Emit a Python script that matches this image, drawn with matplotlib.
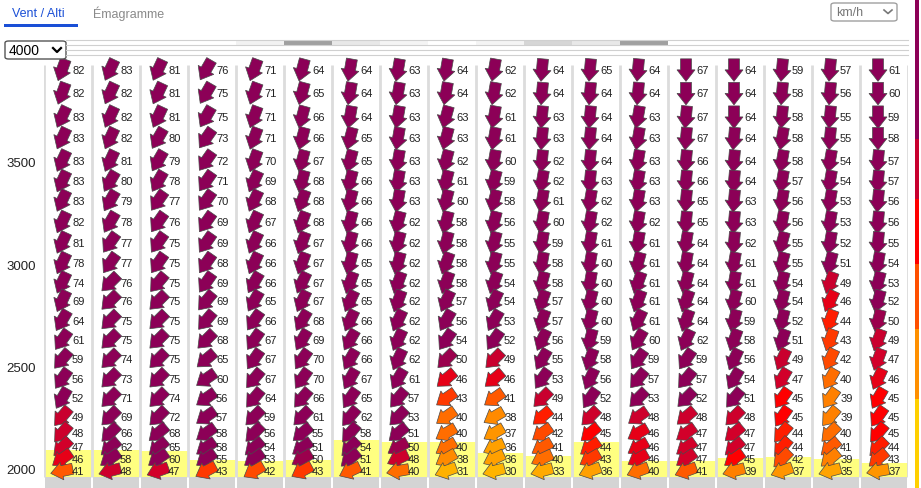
import numpy as np
import matplotlib
matplotlib.use('Agg')
import matplotlib.pyplot as plt
from matplotlib.patches import Polygon, Rectangle, FancyBboxPatch
from matplotlib.lines import Line2D
from matplotlib.transforms import Affine2D, ScaledTranslation
from matplotlib.colors import LinearSegmentedColormap

plt.rcParams['font.family'] = ['Liberation Sans', 'DejaVu Sans']

W, H = 921, 489

# altitude of each level (m), top to bottom
altitudes = [3950, 3835, 3720, 3615, 3505, 3405, 3310, 3205, 3105, 3005, 2910,
             2820, 2725, 2630, 2535, 2440, 2345, 2255, 2175, 2105, 2050, 1990]

# wind speed (km/h), one list per column (time step), top to bottom
speed = [
    [82, 82, 83, 83, 83, 83, 83, 82, 81, 78, 74, 69, 64, 61, 59, 56, 52, 49, 48, 47, 46, 41],
    [83, 82, 82, 82, 81, 80, 79, 78, 77, 77, 76, 76, 75, 75, 74, 73, 71, 69, 66, 62, 58, 48],
    [81, 81, 81, 80, 79, 78, 77, 76, 75, 75, 75, 75, 75, 75, 75, 75, 74, 72, 68, 65, 60, 47],
    [76, 75, 75, 73, 72, 71, 70, 69, 69, 68, 69, 69, 69, 68, 65, 60, 56, 57, 58, 58, 55, 43],
    [71, 71, 71, 71, 70, 69, 68, 67, 66, 66, 66, 65, 66, 67, 67, 67, 64, 59, 56, 54, 53, 42],
    [64, 65, 66, 66, 67, 68, 68, 68, 67, 67, 67, 67, 68, 69, 70, 70, 66, 61, 55, 51, 50, 43],
    [64, 64, 64, 65, 65, 66, 66, 66, 66, 65, 65, 65, 66, 66, 66, 67, 65, 62, 58, 54, 51, 41],
    [63, 63, 63, 63, 63, 63, 63, 62, 62, 62, 62, 62, 62, 62, 62, 61, 57, 53, 51, 50, 48, 40],
    [64, 64, 63, 63, 62, 61, 60, 58, 58, 58, 58, 57, 56, 54, 50, 46, 43, 40, 40, 40, 38, 31],
    [62, 62, 61, 61, 60, 59, 58, 56, 55, 55, 54, 54, 53, 52, 49, 46, 41, 38, 37, 36, 36, 30],
    [64, 64, 63, 63, 62, 62, 61, 60, 59, 58, 58, 57, 57, 56, 55, 53, 49, 44, 42, 41, 40, 33],
    [65, 64, 64, 64, 64, 63, 62, 62, 61, 60, 60, 60, 60, 59, 58, 56, 52, 48, 45, 44, 43, 36],
    [64, 64, 63, 63, 63, 63, 63, 62, 61, 61, 61, 61, 61, 60, 59, 57, 53, 48, 46, 46, 46, 40],
    [67, 67, 67, 67, 66, 66, 65, 65, 64, 64, 64, 64, 64, 62, 59, 57, 52, 48, 47, 47, 47, 41],
    [64, 64, 64, 64, 64, 64, 63, 63, 62, 61, 61, 60, 59, 58, 56, 54, 51, 48, 47, 47, 45, 39],
    [59, 58, 58, 58, 58, 57, 56, 56, 55, 55, 54, 54, 52, 51, 49, 47, 45, 45, 44, 44, 42, 37],
    [57, 56, 55, 55, 54, 54, 53, 53, 52, 51, 49, 46, 44, 43, 42, 40, 39, 39, 40, 41, 39, 35],
    [61, 60, 59, 58, 57, 57, 56, 56, 55, 54, 53, 52, 50, 49, 47, 46, 45, 45, 45, 44, 43, 37],
]

# wind direction (deg, where the wind comes from), same layout
direction = [
    [20, 20, 25, 25, 25, 25, 25, 25, 25, 25, 25, 25, 30, 35, 40, 35, 30, 40, 40, 45, 55, 78],
    [25, 25, 25, 25, 25, 30, 30, 30, 35, 35, 45, 45, 45, 45, 45, 45, 45, 45, 45, 50, 55, 75],
    [25, 25, 25, 30, 30, 30, 35, 35, 35, 35, 40, 45, 45, 45, 45, 45, 45, 45, 50, 50, 55, 70],
    [30, 30, 30, 35, 35, 35, 35, 35, 35, 35, 35, 40, 40, 45, 50, 55, 55, 55, 55, 55, 55, 62],
    [20, 20, 20, 20, 20, 25, 25, 25, 25, 25, 30, 30, 35, 35, 35, 40, 40, 45, 45, 50, 55, 60],
    [15, 15, 15, 15, 15, 15, 20, 20, 20, 20, 25, 25, 30, 30, 35, 35, 40, 45, 50, 55, 60, 62],
    [10, 10, 10, 15, 15, 15, 15, 15, 15, 15, 20, 25, 25, 30, 30, 30, 35, 40, 40, 45, 50, 65],
    [10, 10, 10, 10, 10, 10, 10, 15, 15, 15, 20, 20, 25, 25, 25, 30, 40, 45, 50, 60, 65, 80],
    [10, 10, 15, 15, 15, 15, 15, 15, 15, 20, 20, 25, 30, 35, 45, 50, 55, 55, 60, 60, 60, 70],
    [10, 10, 10, 10, 10, 15, 15, 15, 15, 15, 20, 25, 30, 35, 45, 50, 55, 60, 60, 65, 65, 75],
    [5, 5, 5, 5, 5, 10, 10, 10, 10, 10, 15, 20, 20, 25, 30, 35, 45, 50, 55, 60, 65, 75],
    [5, 5, 5, 5, 5, 5, 10, 10, 10, 10, 10, 15, 15, 15, 20, 25, 35, 45, 50, 55, 60, 70],
    [5, 5, 10, 10, 10, 10, 10, 10, 10, 15, 20, 20, 25, 30, 35, 40, 45, 55, 60, 60, 60, 70],
    [0, 0, 5, 5, 5, 5, 5, 5, 10, 10, 15, 20, 20, 25, 35, 40, 45, 50, 55, 55, 55, 70],
    [0, 0, 0, 5, 5, 5, 5, 5, 5, 10, 10, 15, 15, 20, 25, 30, 40, 45, 50, 50, 55, 75],
    [5, 5, 5, 10, 10, 10, 10, 10, 15, 15, 15, 15, 15, 20, 25, 30, 35, 35, 40, 40, 45, 70],
    [5, 5, 5, 5, 10, 10, 10, 10, 10, 15, 20, 25, 20, 20, 25, 30, 35, 40, 45, 50, 50, 75],
    [0, 0, 0, 0, 5, 5, 5, 5, 5, 10, 15, 15, 15, 20, 20, 25, 30, 35, 40, 45, 50, 80],
]

# top of the yellow (boundary layer) band per column, m
layer_top = [2094, 2094, 2088, 2044, 2041, 2044, 2143, 2130, 2132, 2078,
             2065, 2132, 2041, 2041, 2052, 2057, 2049, 2029]

# shading of the time strip above the chart, per column
strip_colors = ['#ffffff', '#ffffff', '#ffffff', '#ffffff', '#f2f2f2', '#a0a0a0',
                '#e8e8e8', '#f4f4f4', '#ffffff', '#f4f4f4', '#d6d6d6', '#e8e8e8',
                '#a0a0a0', '#ffffff', '#ffffff', '#ffffff', '#ffffff', '#ffffff']

y_ticks = [2000, 2500, 3000, 3500]

speed_cmap = LinearSegmentedColormap.from_list('wind', [
    (0.0, '#ffb400'), (0.27, '#ffa000'), (0.41, '#ff8000'), (0.5, '#ff5a00'),
    (0.59, '#ff3a00'), (0.68, '#ff0000'), (0.77, '#d2002a'), (0.88, '#c8002e'),
    (0.92, '#8c0057'), (1.0, '#8c0057')])


def speed_color(v):
    return speed_cmap(float(np.clip((v - 30) / 22.0, 0.0, 1.0)))


def fx(x):
    return x / W


def fy(y):
    return 1 - y / H


fig = plt.figure(figsize=(W / 100, H / 100), dpi=100)
ax = fig.add_axes([fx(44), 0, (908 - 44) / W, (489 - 60) / H])
ncol = len(speed)
ax.set_xlim(0, ncol)
ax.set_ylim(1907, 4003)
for s in ax.spines.values():
    s.set_visible(False)
ax.set_xticks([])
ax.set_yticks(y_ticks)
ax.tick_params(axis='y', length=0, pad=6, labelsize=9.5, labelcolor='#222222')

cols = np.arange(ncol)
# grey base and yellow layer
ax.bar(cols + 0.5, 1961 - 1907, bottom=1907, width=45.5 / 48, color='#d4d4d4', zorder=1)
ax.bar(cols + 0.5, np.array(layer_top) - 1961, bottom=1961, width=1.0,
       color='#ffff80', zorder=1)
ax.vlines(np.arange(ncol + 1), 1961, 3974, color='#dcdcdc', lw=2, zorder=2)

# arrow shape in pixels, pointing +x
shape = np.array([(-11, -5.5), (0, -5.5), (0, -9), (11.5, 0), (0, 9), (0, 5.5), (-11, 5.5)])

for i in range(ncol):
    for j, alt in enumerate(altitudes):
        v = speed[i][j]
        ang = 270 - direction[i][j]
        tr = Affine2D().rotate_deg(ang) + ScaledTranslation(i + 0.375, alt, ax.transData)
        ax.add_patch(Polygon(shape, closed=True, transform=tr, facecolor=speed_color(v),
                             edgecolor='#4a4a4a', lw=0.5, zorder=3, clip_on=False))
        ax.text(i + 0.585, alt, str(v), fontsize=8, color='#222222', va='center',
                ha='left', zorder=4)

# header: tabs
fig.text(fx(12), fy(14), 'Vent / Alti', fontsize=9, color='#1a4fd6', va='center')
fig.text(fx(93), fy(14), 'Émagramme', fontsize=9, color='#8a8a8a', va='center')
fig.add_artist(Rectangle((fx(4), fy(28)), fx(74), 3 / H, color='#1a4fd6', lw=0))

# time strip and lines
for i, c in enumerate(strip_colors):
    x0 = 44 + 48 * i
    fig.add_artist(Rectangle((fx(x0), fy(46)), fx(48), 5 / H, color=c, lw=0))
for y in [41, 46, 51, 56]:
    fig.add_artist(Line2D([fx(66), fx(908)], [fy(y), fy(y)], color='#d0d0d0', lw=0.8))

# altitude selector
fig.add_artist(FancyBboxPatch((fx(5), fy(60)), fx(61), 18 / H,
                              boxstyle='round,pad=0,rounding_size=0.004',
                              facecolor='white', edgecolor='#555555', lw=1))
fig.text(fx(9), fy(51), '4000', fontsize=10, color='#000000', va='center')
fig.add_artist(Line2D([fx(53), fx(57), fx(61)], [fy(49), fy(53), fy(49)], color='#000000', lw=1.6))

# unit selector
fig.add_artist(FancyBboxPatch((fx(831), fy(22)), fx(66), 18 / H,
                              boxstyle='round,pad=0,rounding_size=0.004',
                              facecolor='white', edgecolor='#a0a0a0', lw=1))
fig.text(fx(836), fy(13), 'km/h', fontsize=9, color='#777777', va='center')
fig.add_artist(Line2D([fx(884), fx(888), fx(892)], [fy(11), fy(14.5), fy(11)], color='#777777', lw=1.2))

# speed colour stripe at right edge
stripe = [('#8c0057', 0, 140), ('#c8002e', 140, 200), ('#ff0000', 200, 265),
          ('#ff5000', 265, 330), ('#ff9000', 330, 400), ('#ffd000', 400, 489)]
for c, y0, y1 in stripe:
    fig.add_artist(Rectangle((fx(915), fy(y1)), fx(4), (y1 - y0) / H, color=c, lw=0))

fig.savefig('out.png', dpi=100)
